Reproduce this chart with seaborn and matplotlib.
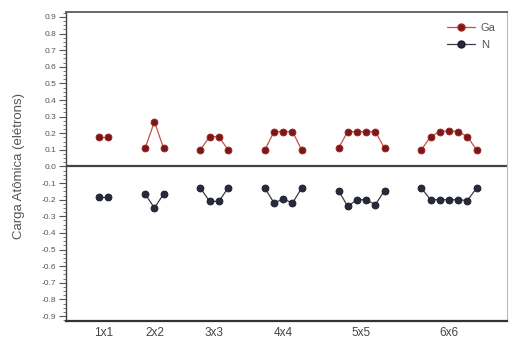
import numpy as np
import pandas as pd
import matplotlib
matplotlib.use("Agg")
import matplotlib.pyplot as plt
import seaborn as sns
from matplotlib.ticker import MultipleLocator, FormatStrFormatter
from matplotlib.lines import Line2D

configs = ["1x1", "2x2", "3x3", "4x4", "5x5", "6x6"]
ga_values = [
    [0.18, 0.18],
    [0.11, 0.27, 0.11],
    [0.10, 0.18, 0.18, 0.10],
    [0.10, 0.21, 0.21, 0.21, 0.10],
    [0.11, 0.21, 0.21, 0.21, 0.21, 0.11],
    [0.10, 0.18, 0.21, 0.215, 0.21, 0.18, 0.10],
]
n_values = [
    [-0.185, -0.185],
    [-0.165, -0.25, -0.165],
    [-0.13, -0.21, -0.21, -0.13],
    [-0.13, -0.22, -0.195, -0.22, -0.13],
    [-0.145, -0.24, -0.20, -0.20, -0.23, -0.145],
    [-0.13, -0.20, -0.20, -0.20, -0.20, -0.205, -0.13],
]
yticks = [-0.9, -0.8, -0.7, -0.6, -0.5, -0.4, -0.3, -0.2, -0.1, 0.0,
          0.1, 0.2, 0.3, 0.4, 0.5, 0.6, 0.7, 0.8, 0.9]

GAP = 4
rows = []
centers = []
start = 0
for cfg, ga, nn in zip(configs, ga_values, n_values):
    xs = [start + i for i in range(len(ga))]
    centers.append((xs[0] + xs[-1]) / 2)
    for x, g in zip(xs, ga):
        rows.append(dict(config=cfg, species="Ga", x=x, q=g))
    for x, v in zip(xs, nn):
        rows.append(dict(config=cfg, species="N", x=x, q=v))
    start = xs[-1] + GAP
df = pd.DataFrame(rows)

sns.set_style("white")
plt.rcParams['font.family'] = ['Liberation Sans', 'DejaVu Sans']

fig = plt.figure(figsize=(5.09, 3.42), dpi=100)
ax = fig.add_axes([0.1297, 0.0614, 0.8663, 0.9036])

ga_col = "#7a1818"
n_col = "#262a3c"
line_ga = "#c9504a"
line_n = "#3a3d4a"
ms = 5.0

for cfg in configs:
    sub = df[(df.config == cfg) & (df.species == "Ga")]
    sns.lineplot(data=sub, x="x", y="q", ax=ax, color=line_ga, lw=0.9,
                 marker="o", markersize=ms, markerfacecolor=ga_col,
                 markeredgecolor="#a02525", markeredgewidth=0.6,
                 estimator=None, sort=False, legend=False)
    sub = df[(df.config == cfg) & (df.species == "N")]
    sns.lineplot(data=sub, x="x", y="q", ax=ax, color=line_n, lw=0.9,
                 marker="o", markersize=ms, markerfacecolor=n_col,
                 markeredgecolor="#1a1c28", markeredgewidth=0.6,
                 estimator=None, sort=False, legend=False)

ax.axhline(0, color="#444444", lw=1.6, zorder=1)

ax.set_xlim(-3.6, 44.3)
ax.set_ylim(-0.93, 0.93)
ax.set_xticks(centers)
ax.set_xticklabels(configs, fontsize=8.5, color="#444444")
ax.tick_params(axis="x", length=0, pad=4)
ax.set_yticks(yticks)
ax.yaxis.set_major_formatter(FormatStrFormatter("%.1f"))
ax.yaxis.set_minor_locator(MultipleLocator(0.025))
ax.tick_params(axis="y", which="major", direction="out", length=5, width=0.8,
               labelsize=6, labelcolor="#555555", color="#555555", left=True, pad=2)
ax.tick_params(axis="y", which="minor", direction="out", length=2.5, width=0.6,
               color="#666666", left=True)
ax.set_xlabel("")
ax.set_ylabel("Carga Atômica (elétrons)", fontsize=9.5, color="#555555", labelpad=12)

for side in ["left", "bottom", "top", "right"]:
    ax.spines[side].set_visible(True)
ax.spines["left"].set_color("#444444")
ax.spines["left"].set_linewidth(1.0)
ax.spines["bottom"].set_color("#333333")
ax.spines["bottom"].set_linewidth(1.6)
ax.spines["top"].set_color("#666666")
ax.spines["top"].set_linewidth(1.4)
ax.spines["right"].set_color("#bbbbbb")
ax.spines["right"].set_linewidth(0.8)

handles = [
    Line2D([], [], color=line_ga, lw=0.9, marker="o", markersize=ms,
           markerfacecolor=ga_col, markeredgecolor="#a02525"),
    Line2D([], [], color=line_n, lw=0.9, marker="o", markersize=ms,
           markerfacecolor=n_col, markeredgecolor="#1a1c28"),
]
leg = ax.legend(handles, ["Ga", "N"], loc="upper right", frameon=False,
                fontsize=8, handlelength=2.6, handletextpad=0.5,
                labelspacing=0.6, borderaxespad=0.6)
for t in leg.get_texts():
    t.set_color("#555555")

fig.savefig("out.png", dpi=100)
